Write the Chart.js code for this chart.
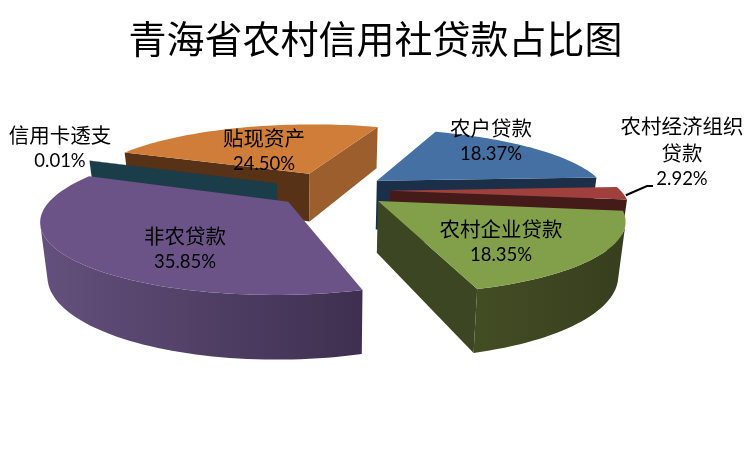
<!DOCTYPE html>
<html>
<head>
<meta charset="utf-8">
<title>青海省农村信用社贷款占比图</title>
<script src="https://cdn.jsdelivr.net/npm/chart.js@4"></script>
<style>
  html, body { margin: 0; padding: 0; background: #fff; }
  canvas { display: block; }
</style>
</head>
<body>
<canvas id="pieChart" width="751" height="449"></canvas>
<script>
// Dados do gráfico
const categories = ['农户贷款', '农村经济组织贷款', '农村企业贷款', '非农贷款', '信用卡透支', '贴现资产'];
const shares = [18.37, 2.92, 18.35, 35.85, 0.01, 24.50];

// Estilo de cada fatia
const topColors = ['#4470a3', '#a0403d', '#82a04a', '#6b5388', '#1b3d4a', '#cf7d39'];
const startFaceColors = ['#1c2f48', '#451b1a', '#3c4521', '#3a2c4c', '#1b3d4a', '#583217'];
const endFaceColors = ['#1c2f48', '#451b1a', '#3d4622', '#3a2c4c', '#1b3d4a', '#9b5e2c'];
const wallLeftColors = ['#22395a', '#451b1a', '#434d24', '#64507c', '#1b3d4a', '#9b5e2c'];
const wallRightColors = ['#1c2f48', '#451b1a', '#373e1e', '#3e2f50', '#1b3d4a', '#7d4b22'];
const explode = [56, 57, 57, 58, 62, 64];
const drawOrder = [5, 4, 3, 0, 1, 2];

// Posição central dos rótulos
const labelX = [491, 682, 501, 185, 60, 264];
const labelY = [126, 124, 227, 234, 133, 136];
const labelLineHeight = 27;

// Projeção em perspectiva do disco
const view = { cx: 333, cy: 190, radius: 230, tilt: 0.29, persp: 0.22, depth: 50, shrink: 0.975 };

function project(u, v, bottom) {
  const w = 1 / (1 - view.persp * v / view.radius);
  let x = u * w;
  let y = view.tilt * v * w;
  if (bottom) {
    x *= view.shrink;
    y = y * view.shrink + view.depth * w;
  }
  return { x: view.cx + x, y: view.cy + y };
}

function slicePoint(arc, angle, radius) {
  const mid = (arc.startAngle + arc.endAngle) / 2;
  const off = arc.options.offset;
  return {
    u: off * Math.cos(mid) + radius * Math.cos(angle),
    v: off * Math.sin(mid) + radius * Math.sin(angle)
  };
}

function fillPolygon(ctx, pts, fill) {
  ctx.beginPath();
  pts.forEach(function(p, i) {
    if (i === 0) ctx.moveTo(p.x, p.y); else ctx.lineTo(p.x, p.y);
  });
  ctx.closePath();
  ctx.fillStyle = fill;
  ctx.fill();
}

function quadFor(a, b) {
  return [project(a.u, a.v), project(b.u, b.v), project(b.u, b.v, true), project(a.u, a.v, true)];
}

function isVisible(q) {
  let area = 0;
  q.forEach(function(p, i) {
    const n = q[(i + 1) % q.length];
    area += p.x * n.y - n.x * p.y;
  });
  return area < 0;
}

function drawSlice(ctx, arc, i) {
  const apex = slicePoint(arc, 0, 0);
  const rim = [];
  const steps = Math.max(1, Math.ceil((arc.endAngle - arc.startAngle) / 0.03));
  for (let s = 0; s <= steps; s++) {
    const angle = arc.startAngle + (arc.endAngle - arc.startAngle) * s / steps;
    rim.push(slicePoint(arc, angle, view.radius));
  }

  // Faces de corte
  const startFace = quadFor(apex, rim[0]);
  if (isVisible(startFace)) fillPolygon(ctx, startFace, startFaceColors[i]);
  const endFace = quadFor(rim[rim.length - 1], apex);
  if (isVisible(endFace)) fillPolygon(ctx, endFace, endFaceColors[i]);

  // Parede curva: junta os segmentos visíveis num só polígono
  const screen = rim.map(function(p) { return project(p.u, p.v).x; });
  const grad = ctx.createLinearGradient(Math.min.apply(null, screen), 0, Math.max.apply(null, screen) + 1, 0);
  grad.addColorStop(0, wallLeftColors[i]);
  grad.addColorStop(1, wallRightColors[i]);
  let upper = [];
  let lower = [];
  for (let s = 0; s < steps; s++) {
    const q = quadFor(rim[s], rim[s + 1]);
    if (isVisible(q)) {
      if (upper.length === 0) {
        upper.push(q[0]);
        lower.unshift(q[3]);
      }
      upper.push(q[1]);
      lower.unshift(q[2]);
    }
  }
  if (upper.length > 0) fillPolygon(ctx, upper.concat(lower), grad);

  // Topo
  const top = [project(apex.u, apex.v)].concat(rim.map(function(p) { return project(p.u, p.v); }));
  fillPolygon(ctx, top, arc.options.backgroundColor);
}

function wrapLabel(text) {
  return text.length > 6 ? [text.slice(0, 6), text.slice(6)] : [text];
}

const pie3d = {
  id: 'pie3d',
  beforeDatasetsDraw: function(chart) {
    const ctx = chart.ctx;
    const arcs = chart.getDatasetMeta(0).data;
    ctx.save();
    drawOrder.forEach(function(i) { drawSlice(ctx, arcs[i], i); });
    ctx.restore();
    return false;
  },
  afterDraw: function(chart) {
    const ctx = chart.ctx;
    const arcs = chart.getDatasetMeta(0).data;
    ctx.save();

    // Linha de chamada do rótulo pequeno
    const red = arcs[1];
    const tip = slicePoint(red, (red.startAngle + red.endAngle) / 2, view.radius);
    const from = project(tip.u, tip.v);
    ctx.beginPath();
    ctx.moveTo(from.x + 3, from.y + 2);
    ctx.lineTo(labelX[1] - 35, labelY[1] + labelLineHeight * 2 + 8);
    ctx.lineTo(labelX[1] - 29, labelY[1] + labelLineHeight * 2 + 8);
    ctx.strokeStyle = '#000';
    ctx.lineWidth = 2;
    ctx.stroke();

    ctx.fillStyle = '#000';
    ctx.textAlign = 'center';
    ctx.textBaseline = 'middle';
    categories.forEach(function(name, i) {
      const lines = wrapLabel(name);
      ctx.font = '20.5px "Noto Sans CJK SC"';
      lines.forEach(function(line, n) {
        ctx.fillText(line, labelX[i], labelY[i] + 2 + n * labelLineHeight);
      });
      ctx.font = '18.5px Lato';
      ctx.fillText(shares[i].toFixed(2) + '%', labelX[i], labelY[i] + 1 + lines.length * labelLineHeight);
    });
    ctx.restore();
  }
};

new Chart(document.getElementById('pieChart').getContext('2d'), {
  type: 'pie',
  data: {
    labels: categories,
    datasets: [{
      data: shares,
      backgroundColor: topColors,
      offset: explode,
      borderWidth: 0
    }]
  },
  options: {
    responsive: false,
    animation: false,
    rotation: 20.8,
    plugins: {
      legend: { display: false },
      tooltip: { enabled: false },
      title: {
        display: true,
        text: '青海省农村信用社贷款占比图',
        color: '#000',
        font: { family: '"Noto Sans CJK SC"', size: 38, weight: 'normal' },
        padding: { top: 16, bottom: 10 }
      }
    }
  },
  plugins: [pie3d]
});
</script>
</body>
</html>
